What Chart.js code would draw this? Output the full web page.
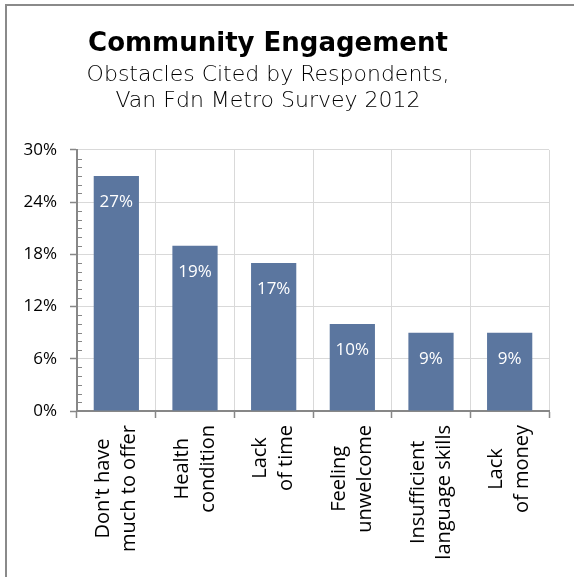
<!DOCTYPE html>
<html>
<head>
<meta charset="utf-8">
<script src="https://cdn.jsdelivr.net/npm/chart.js@4/dist/chart.umd.min.js"></script>
<style>
  html, body { margin: 0; padding: 0; background: #fff; overflow: hidden; }
  body { width: 574px; height: 577px; position: relative; }
  #frame { position: absolute; left: 5px; top: 4px; right: 0; bottom: 0;
           border-top: 2px solid #8a8a8a; border-left: 2px solid #8a8a8a; }
  #chart { position: absolute; left: -13px; top: 0; }
</style>
</head>
<body>
<div id="frame"></div>
<canvas id="chart" width="587" height="577"></canvas>
<script>
// Obstacles to community engagement (share of respondents, %)
const categories = [
  ["Don't have", "much to offer"],
  ["Health", "condition"],
  ["Lack", "of time"],
  ["Feeling", "unwelcome"],
  ["Insufficient", "language skills"],
  ["Lack", "of money"]
];
const shares = [27, 19, 17, 10, 9, 9];
const yTicks = [0, 6, 12, 18, 24, 30];

const titleText = "Community Engagement";
const subtitleLines = ["Obstacles Cited by Respondents,", "Van Fdn Metro Survey 2012"];

const AXIS = '#878787';
const GRID = '#d9d9d9';
const BAR = '#5b769f';
const LABEL_FONT = '"Open Sans", "Noto Sans", sans-serif';
const HEAD_FONT = '"DejaVu Sans", sans-serif';

// Short inner marks on the value axis at every whole percent
const minorTicks = {
  id: 'minorTicks',
  afterDatasetsDraw(chart) {
    const y = chart.scales.y;
    const ctx = chart.ctx;
    const x0 = chart.chartArea.left;
    ctx.save();
    ctx.strokeStyle = AXIS;
    ctx.lineWidth = 1;
    for (let v = y.min; v <= y.max; v += 1) {
      if (yTicks.includes(v)) continue;
      const py = Math.round(y.getPixelForValue(v)) + 0.5;
      ctx.beginPath();
      ctx.moveTo(x0 + 1, py);
      ctx.lineTo(x0 + 5, py);
      ctx.stroke();
    }
    ctx.restore();
  }
};

// Percent labels printed inside the top of each bar
const barValues = {
  id: 'barValues',
  afterDatasetsDraw(chart) {
    const ctx = chart.ctx;
    const meta = chart.getDatasetMeta(0);
    ctx.save();
    ctx.fillStyle = '#ffffff';
    ctx.font = '17px ' + LABEL_FONT;
    ctx.textAlign = 'center';
    ctx.textBaseline = 'middle';
    meta.data.forEach((bar, i) => {
      ctx.fillText(chart.data.datasets[0].data[i] + '%', bar.x, bar.y + 26);
    });
    ctx.restore();
  }
};

// Vertical two-line category labels, lines centred on each other
const categoryLabels = {
  id: 'categoryLabels',
  afterDraw(chart) {
    const x = chart.scales.x;
    const ctx = chart.ctx;
    const lineGap = 26;
    const top = x.top + 14;
    ctx.save();
    ctx.fillStyle = '#000000';
    ctx.font = '20px ' + LABEL_FONT;
    ctx.textAlign = 'center';
    ctx.textBaseline = 'middle';
    chart.data.labels.forEach((lines, i) => {
      const cx = x.getPixelForValue(i);
      const widest = Math.max(...lines.map(l => ctx.measureText(l).width));
      ctx.save();
      ctx.translate(cx, top + widest / 2);
      ctx.rotate(-Math.PI / 2);
      lines.forEach((line, j) => {
        ctx.fillText(line, 0, (j - (lines.length - 1) / 2) * lineGap);
      });
      ctx.restore();
    });
    ctx.restore();
  }
};

new Chart(document.getElementById('chart'), {
  type: 'bar',
  data: {
    labels: categories,
    datasets: [{
      data: shares,
      backgroundColor: BAR,
      borderWidth: 0,
      categoryPercentage: 1,
      barPercentage: 0.575
    }]
  },
  options: {
    responsive: false,
    devicePixelRatio: 1,
    animation: false,
    layout: { padding: { left: 0, right: 25, top: 0, bottom: 0 } },
    plugins: {
      legend: { display: false },
      tooltip: { enabled: false },
      title: {
        display: true,
        text: titleText,
        color: '#000000',
        font: { family: HEAD_FONT, size: 26, weight: 'bold', lineHeight: 1.15 },
        padding: { top: 29, bottom: 0 }
      },
      subtitle: {
        display: true,
        text: subtitleLines,
        color: '#000000',
        font: { family: HEAD_FONT, size: 22, weight: '200', lineHeight: 1.16 },
        padding: { top: 4, bottom: 36 }
      }
    },
    scales: {
      x: {
        grid: { color: GRID, tickColor: AXIS, tickLength: 7, tickWidth: 1.5, offset: true },
        border: { color: AXIS, width: 2 },
        ticks: { display: false },
        afterFit(scale) { scale.height = 166; }
      },
      y: {
        min: 0,
        max: 30,
        afterBuildTicks(scale) { scale.ticks = yTicks.map(v => ({ value: v })); },
        grid: { color: GRID, tickColor: AXIS, tickLength: 7, tickWidth: 1.5 },
        border: { color: AXIS, width: 2 },
        ticks: {
          color: '#000000',
          padding: 13,
          font: { family: LABEL_FONT, size: 17 },
          callback: v => v + '%'
        },
        afterFit(scale) { scale.width = 90; }
      }
    }
  },
  plugins: [minorTicks, barValues, categoryLabels]
});
</script>
</body>
</html>
